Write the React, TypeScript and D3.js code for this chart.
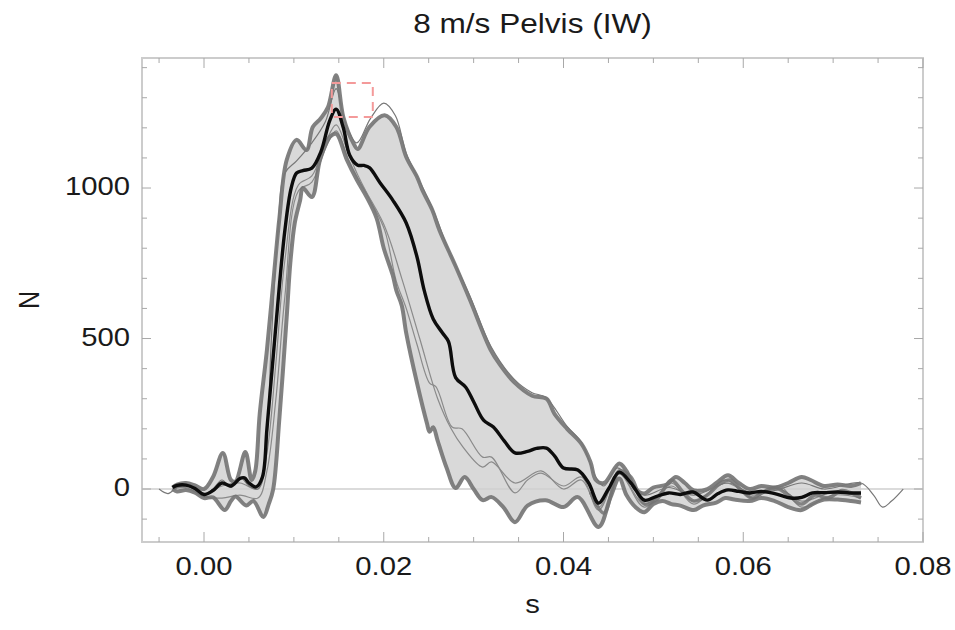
import React from 'react';
import * as d3 from 'd3';

// ---------- text ----------
const title = '8 m/s Pelvis (IW)';
const xLabel = 's';
const yLabel = 'N';
const xTickValues = [0, 0.02, 0.04, 0.06, 0.08];
const xTickLabels = ['0.00', '0.02', '0.04', '0.06', '0.08'];
const yTickValues = [0, 500, 1000];
const yTickLabels = ['0', '500', '1000'];

// ---------- data: mean curve (black) ----------
const meanT = [-0.0035, -0.003, -0.002, -0.001, 0, 0.001, 0.002, 0.003, 0.004, 0.0045, 0.005, 0.0058, 0.0065, 0.007, 0.0077, 0.0084, 0.009, 0.0097, 0.0103, 0.011, 0.012, 0.013, 0.014, 0.0147, 0.0155, 0.0162, 0.0171, 0.0178, 0.0184, 0.0196, 0.021, 0.0225, 0.0237, 0.0245, 0.0255, 0.0265, 0.0272, 0.028, 0.0291, 0.03, 0.0311, 0.0322, 0.0334, 0.0346, 0.036, 0.037, 0.0381, 0.039, 0.04, 0.0416, 0.0428, 0.0439, 0.045, 0.0462, 0.0475, 0.049, 0.0503, 0.0517, 0.053, 0.0544, 0.056, 0.0572, 0.0583, 0.0595, 0.0607, 0.062, 0.0635, 0.0653, 0.0665, 0.0677, 0.069, 0.0705, 0.0718, 0.0731];
const meanV = [5, 12, 13, 2, -18, -5, 20, 10, 35, 37, 20, 7, 40, 200, 440, 680, 860, 1000, 1050, 1058, 1066, 1120, 1225, 1262, 1200, 1110, 1076, 1075, 1068, 1017, 960, 884, 771, 660, 565, 520, 490, 370, 339, 290, 229, 206, 160, 120, 125, 135, 136, 110, 70, 63, 20, -47, 0, 56, 20, -37, -25, -13, -18, -10, -37, -15, -3, -8, -13, -8, -15, -30, -28, -13, -12, -10, -13, -13];

// ---------- data: upper envelope (thick grey) ----------
const upperT = [-0.0035, -0.003, -0.002, -0.001, 0, 0.001, 0.0021, 0.003, 0.0035, 0.0046, 0.0053, 0.0057, 0.0062, 0.007, 0.0077, 0.0084, 0.0092, 0.0103, 0.0114, 0.0121, 0.013, 0.0138, 0.0147, 0.0155, 0.0166, 0.0171, 0.0184, 0.0201, 0.0214, 0.0225, 0.0237, 0.0243, 0.0254, 0.0262, 0.028, 0.0296, 0.0319, 0.033, 0.0345, 0.0365, 0.0381, 0.039, 0.0404, 0.042, 0.043, 0.0436, 0.0445, 0.0462, 0.047, 0.048, 0.049, 0.05, 0.0515, 0.0525, 0.0535, 0.0545, 0.056, 0.057, 0.0583, 0.0595, 0.0607, 0.062, 0.0635, 0.065, 0.0665, 0.0675, 0.069, 0.0705, 0.072, 0.0731];
const upperV = [5, 15, 20, 12, 0, 40, 120, 30, 25, 123, 30, 60, 250, 462, 684, 904, 1093, 1160, 1126, 1203, 1232, 1269, 1375, 1236, 1150, 1130, 1203, 1242, 1203, 1103, 1037, 993, 927, 860, 740, 628, 462, 410, 355, 310, 300, 250, 200, 150, 90, 30, 20, 85, 60, 0, -15, 5, 15, 40, 20, -5, 0, 20, 46, 20, 0, 10, 5, 20, 40, 30, 10, 15, 10, 20];

// ---------- data: lower envelope (thick grey) ----------
const lowerT = [-0.0035, -0.003, -0.002, -0.001, 0, 0.001, 0.0023, 0.003, 0.0035, 0.0047, 0.0055, 0.0066, 0.0072, 0.0077, 0.0084, 0.0092, 0.0096, 0.0101, 0.0107, 0.011, 0.012, 0.0129, 0.014, 0.0147, 0.0159, 0.017, 0.0181, 0.0192, 0.02, 0.021, 0.0214, 0.022, 0.0225, 0.0237, 0.0248, 0.0251, 0.0255, 0.026, 0.027, 0.028, 0.029, 0.03, 0.031, 0.032, 0.0333, 0.0346, 0.036, 0.038, 0.04, 0.0416, 0.0439, 0.0452, 0.0462, 0.047, 0.048, 0.049, 0.05, 0.051, 0.052, 0.053, 0.0545, 0.0555, 0.057, 0.058, 0.059, 0.0607, 0.062, 0.0635, 0.065, 0.0665, 0.0677, 0.069, 0.0705, 0.072, 0.0731];
const lowerV = [0, -8, -3, -12, -30, -28, -70, -40, -25, -55, -40, -93, -50, 0, 240, 571, 750, 884, 960, 1000, 970, 1093, 1170, 1180, 1093, 1027, 970, 900, 800, 710, 660, 610, 518, 352, 219, 190, 205, 160, 70, 3, 40, 0, -37, -27, -60, -110, -55, -37, -60, -27, -126, -30, 35, -20, -60, -77, -50, -40, -50, -55, -70, -55, -45, -30, -35, -40, -30, -40, -60, -70, -50, -35, -35, -40, -45];

// ---------- data: individual trials ----------
const trialAT = [-0.005, -0.004, -0.003, -0.002, -0.001, 0, 0.001, 0.002, 0.003, 0.004, 0.005, 0.006, 0.0068, 0.0075, 0.0082, 0.009, 0.0103, 0.012, 0.0135, 0.0147, 0.0157, 0.017, 0.0185, 0.02, 0.0213, 0.0225, 0.0237, 0.0246, 0.0258, 0.027, 0.0296, 0.0319, 0.0345, 0.0365, 0.038, 0.0404, 0.042, 0.0436, 0.0445, 0.046, 0.048, 0.049, 0.0517, 0.0545, 0.0583, 0.0607, 0.0635, 0.0665, 0.069, 0.0731, 0.0745, 0.0755, 0.0765, 0.0778];
const trialAV = [0, -15, 5, 10, 0, -20, 0, 30, 5, 40, 10, 0, 100, 500, 850, 1050, 1090, 1150, 1220, 1330, 1220, 1150, 1230, 1282, 1240, 1115, 1040, 985, 905, 810, 640, 475, 365, 320, 305, 208, 155, 40, 10, 70, 10, -20, 5, -20, 20, -10, -5, 20, 0, 20, -20, -60, -40, 0];

const trialBT = [-0.0035, -0.002, 0, 0.002, 0.004, 0.006, 0.007, 0.008, 0.009, 0.0105, 0.012, 0.0135, 0.0147, 0.016, 0.017, 0.0185, 0.0201, 0.0214, 0.0225, 0.0237, 0.0251, 0.0258, 0.0276, 0.0287, 0.031, 0.032, 0.0346, 0.036, 0.0375, 0.04, 0.042, 0.0439, 0.0462, 0.049, 0.052, 0.0545, 0.058, 0.061, 0.064, 0.0665, 0.07, 0.0731];
const trialBV = [0, 10, -15, 10, 20, 0, 120, 420, 760, 1010, 1040, 1150, 1210, 1120, 1050, 960, 860, 690, 600, 480, 352, 340, 206, 200, 106, 106, -13, 30, 53, 10, 40, -70, 50, -50, 10, -40, 20, -20, 0, -40, -10, -20];

const trialCT = [-0.0035, -0.002, 0, 0.002, 0.004, 0.006, 0.007, 0.008, 0.009, 0.0105, 0.012, 0.0135, 0.0147, 0.016, 0.017, 0.02, 0.022, 0.024, 0.026, 0.0275, 0.0288, 0.031, 0.032, 0.0346, 0.0375, 0.04, 0.042, 0.0439, 0.0462, 0.049, 0.052, 0.0545, 0.058, 0.061, 0.064, 0.0665, 0.07, 0.0731];
const trialCV = [0, 5, -25, -30, -20, -30, 60, 300, 640, 990, 1020, 1130, 1190, 1100, 1040, 880, 700, 500, 300, 200, 140, 73, 90, 20, 60, 0, 30, -60, 50, -60, 20, -50, 30, -30, 10, -60, -20, -30];

// thick trial visible only after the pulse (tail oscillations)
const trialDT = [0.043, 0.0445, 0.0462, 0.0475, 0.049, 0.0505, 0.052, 0.0533, 0.0545, 0.056, 0.0573, 0.0585, 0.0598, 0.061, 0.0622, 0.0635, 0.065, 0.0665, 0.068, 0.0695, 0.071, 0.0731];
const trialDV = [-10, -80, 60, 40, -50, -30, 30, -10, -40, -20, 15, 30, -5, -30, -10, 5, -20, -50, -20, -30, -5, -30];

// ---------- data: highlighted peak box ----------
const peakBoxT = [0.01422, 0.01878];
const peakBoxV = [1236, 1349];

// ---------- layout ----------
const W = 955;
const H = 630;
const PL = 142, PR = 923, PT = 58, PB = 542;
const STRETCH = 1.17;
const FONT = '"Liberation Sans", Arial, Helvetica, sans-serif';

const x = d3.scaleLinear().domain([-0.0069, 0.08]).range([PL, PR]);
const y = d3.scaleLinear().domain([-176, 1432]).range([PB, PT]);

const zip = (t: number[], v: number[]) => t.map((tt, i) => [tt, v[i]] as [number, number]);

const lineGen = d3
  .line<[number, number]>()
  .x((d) => x(d[0]))
  .y((d) => y(d[1]))
  .curve(d3.curveCatmullRom.alpha(0.5));

const upperPts = zip(upperT, upperV);
const lowerPts = zip(lowerT, lowerV);
const bandPath =
  (lineGen(upperPts) as string) +
  'L' +
  (lineGen(lowerPts.slice().reverse()) as string).slice(1) +
  'Z';

const xMinor = d3.range(-0.005, 0.0801, 0.005);
const yMinor = d3.range(-100, 1401, 100);

function STxt(props: { x: number; y: number; anchor: string; size: number; children: React.ReactNode; rotate?: boolean }) {
  const { x: tx, y: ty, anchor, size, children, rotate } = props;
  const tr = rotate
    ? `translate(${tx},${ty}) rotate(-90) scale(1,${STRETCH})`
    : `translate(${tx},${ty}) scale(${STRETCH},1)`;
  return (
    <text transform={tr} textAnchor={anchor as any} fontFamily={FONT} fontSize={size} fill="#1a1a1a">
      {children}
    </text>
  );
}

export default function App() {
  const thick = '#737373';
  return (
    <div style={{ position: 'absolute', left: 0, top: 0 }}>
      <svg width={W} height={H} style={{ display: 'block', background: '#fff' }}>
        <rect x={0} y={0} width={W} height={H} fill="#fff" />
        {/* band */}
        <path d={bandPath} fill="#d9d9d9" stroke="none" />
        {/* zero line */}
        <line x1={PL} x2={PR} y1={y(0)} y2={y(0)} stroke="#cfcfcf" strokeWidth={1.6} />
        {/* thin trials */}
        {[zip(trialBT, trialBV), zip(trialCT, trialCV)].map((pts, i) => (
          <path key={i} d={lineGen(pts) as string} fill="none" stroke="#8a8a8a" strokeWidth={1.2} />
        ))}
        {/* thick trials / envelopes */}
        <path d={lineGen(zip(trialDT, trialDV)) as string} fill="none" stroke={thick} strokeWidth={3.5} strokeOpacity={0.85} strokeLinejoin="round" />
        <path d={lineGen(upperPts) as string} fill="none" stroke={thick} strokeWidth={4} strokeOpacity={0.9} strokeLinejoin="round" />
        <path d={lineGen(lowerPts) as string} fill="none" stroke={thick} strokeWidth={4} strokeOpacity={0.9} strokeLinejoin="round" />
        <path d={lineGen(zip(trialAT, trialAV)) as string} fill="none" stroke="#777" strokeWidth={1.2} />
        {/* mean */}
        <path d={lineGen(zip(meanT, meanV)) as string} fill="none" stroke="#0d0d0d" strokeWidth={3.4} strokeLinejoin="round" />
        {/* peak box */}
        <rect
          x={x(peakBoxT[0])}
          y={y(peakBoxV[1])}
          width={x(peakBoxT[1]) - x(peakBoxT[0])}
          height={y(peakBoxV[0]) - y(peakBoxV[1])}
          fill="none"
          stroke="#f49a9a"
          strokeWidth={2}
          strokeDasharray="9,6"
        />
        {/* frame */}
        <rect x={PL} y={PT} width={PR - PL} height={PB - PT} fill="none" stroke="#cccccc" strokeWidth={2} />
        {/* ticks */}
        {xMinor.map((t, i) => {
          const major = xTickValues.some((m) => Math.abs(m - t) < 1e-9);
          const len = major ? 10 : 5;
          return (
            <g key={'xt' + i} stroke="#a8a8a8" strokeWidth={1}>
              <line x1={x(t)} x2={x(t)} y1={PB} y2={PB - len} />
              <line x1={x(t)} x2={x(t)} y1={PT} y2={PT + len} />
            </g>
          );
        })}
        {yMinor.map((v, i) => {
          const major = yTickValues.some((m) => m === v);
          const len = major ? 9 : 5;
          return (
            <g key={'yt' + i} stroke="#a8a8a8" strokeWidth={1}>
              <line x1={PL} x2={PL + len} y1={y(v)} y2={y(v)} />
              <line x1={PR} x2={PR - len} y1={y(v)} y2={y(v)} />
            </g>
          );
        })}
        {/* tick labels */}
        {xTickValues.map((t, i) => (
          <STxt key={'xl' + i} x={x(t)} y={575} anchor="middle" size={25}>
            {xTickLabels[i]}
          </STxt>
        ))}
        {yTickValues.map((v, i) => (
          <STxt key={'yl' + i} x={130} y={y(v) + 7} anchor="end" size={25}>
            {yTickLabels[i]}
          </STxt>
        ))}
        {/* titles */}
        <STxt x={(PL + PR) / 2} y={33} anchor="middle" size={27}>
          {title}
        </STxt>
        <STxt x={(PL + PR) / 2} y={613} anchor="middle" size={25}>
          {xLabel}
        </STxt>
        <STxt x={39} y={(PT + PB) / 2} anchor="middle" size={25} rotate>
          {yLabel}
        </STxt>
      </svg>
    </div>
  );
}
